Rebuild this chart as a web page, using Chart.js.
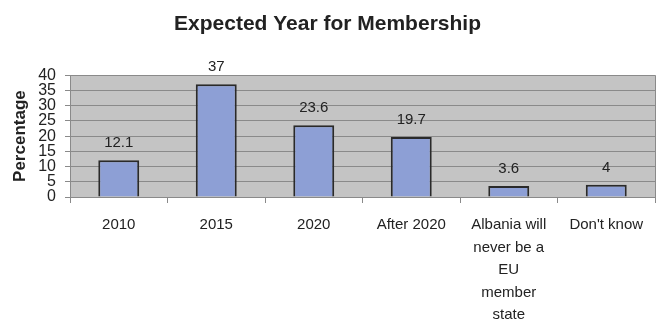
<!DOCTYPE html>
<html>
<head>
<meta charset="utf-8">
<script src="https://cdn.jsdelivr.net/npm/chart.js@4/dist/chart.umd.min.js"></script>
<style>
  html, body { margin: 0; padding: 0; background: #fff; }
  #wrap { width: 665px; height: 334px; }
</style>
</head>
<body>
<div id="wrap"><canvas id="chart" width="665" height="334"></canvas></div>
<script>
// categories and values
const categories = [
  ['2010'],
  ['2015'],
  ['2020'],
  ['After 2020'],
  ['Albania will', 'never be a', 'EU', 'member', 'state'],
  ["Don't know"]
];
const percentages = [12.1, 37, 23.6, 19.7, 3.6, 4];
const yTicks = [0, 5, 10, 15, 20, 25, 30, 35, 40];

// gray plot background, like the old excel chart
const plotBackground = {
  id: 'plotBackground',
  beforeDraw(chart) {
    const { ctx, chartArea: a } = chart;
    ctx.save();
    ctx.fillStyle = '#c4c4c4';
    ctx.fillRect(a.left, a.top, a.right - a.left, a.bottom - a.top);
    ctx.strokeStyle = '#8a8a8a';
    ctx.lineWidth = 1;
    ctx.beginPath();
    ctx.moveTo(a.right + 0.5, a.top);
    ctx.lineTo(a.right + 0.5, a.bottom + 6);
    ctx.stroke();
    ctx.restore();
  }
};

// value labels above the bars
const valueLabels = {
  id: 'valueLabels',
  afterDatasetsDraw(chart) {
    const { ctx } = chart;
    const meta = chart.getDatasetMeta(0);
    ctx.save();
    ctx.font = '15px "Liberation Sans", Arial, sans-serif';
    ctx.fillStyle = '#222';
    ctx.textAlign = 'center';
    ctx.textBaseline = 'middle';
    meta.data.forEach((bar, i) => {
      ctx.fillText(String(percentages[i]), bar.x, bar.y - 17);
    });
    ctx.restore();
  }
};

new Chart(document.getElementById('chart'), {
  type: 'bar',
  data: {
    labels: categories,
    datasets: [{
      data: percentages,
      backgroundColor: '#8d9fd5',
      borderColor: '#2a2a2a',
      borderWidth: 2,
      borderSkipped: 'bottom',
      barPercentage: 0.42,
      categoryPercentage: 1
    }]
  },
  options: {
    responsive: false,
    animation: false,
    layout: { padding: { left: 0, right: 10, top: 0, bottom: 0 } },
    plugins: {
      legend: { display: false },
      tooltip: { enabled: false },
      title: {
        display: true,
        text: 'Expected Year for Membership',
        color: '#222',
        font: { family: '"Liberation Sans", Arial, sans-serif', size: 21, weight: 'bold' },
        padding: { top: 12, bottom: 38 }
      }
    },
    scales: {
      x: {
        grid: { display: true, drawOnChartArea: false, offset: true, color: '#8a8a8a', tickLength: 6 },
        border: { color: '#8a8a8a' },
        ticks: {
          color: '#222',
          padding: 11,
          maxRotation: 0,
          autoSkip: false,
          font: { family: '"Liberation Sans", Arial, sans-serif', size: 15, lineHeight: 1.5 }
        },
        afterFit(scale) { scale.height = 137; }
      },
      y: {
        min: 0,
        max: 40,
        afterBuildTicks(scale) { scale.ticks = yTicks.map(v => ({ value: v })); },
        grid: { color: '#8a8a8a', tickLength: 5 },
        border: { color: '#8a8a8a' },
        ticks: {
          color: '#222',
          padding: 9,
          autoSkip: false,
          font: { family: '"Liberation Sans", Arial, sans-serif', size: 16, lineHeight: 1 }
        },
        title: {
          display: true,
          text: 'Percentage',
          color: '#222',
          font: { family: '"Liberation Sans", Arial, sans-serif', size: 17, weight: 'bold' },
          padding: { top: 10, bottom: 0 }
        },
        afterFit(scale) { scale.width = 70; }
      }
    }
  },
  plugins: [plotBackground, valueLabels]
});
</script>
</body>
</html>
